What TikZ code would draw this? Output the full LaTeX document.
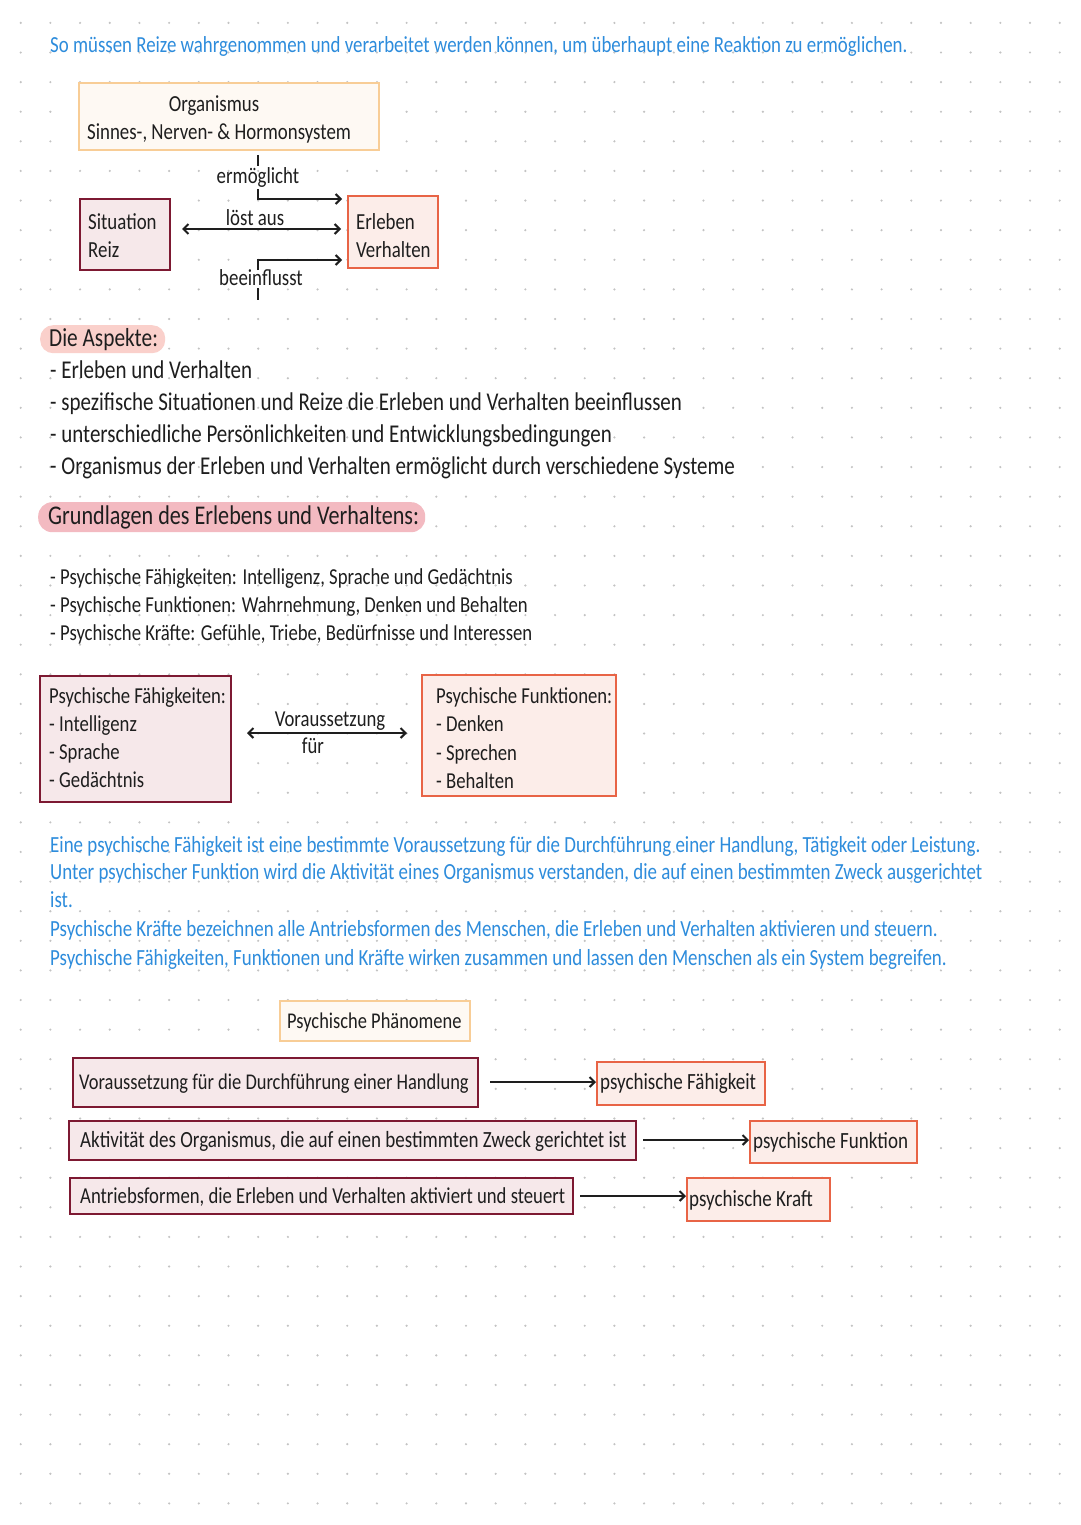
\documentclass[tikz,border=0pt]{standalone}
\usepackage{fontspec}
\setmainfont{Carlito}[FakeStretch=0.82]
\usetikzlibrary{arrows.meta,calc}
\definecolor{ink}{RGB}{30,30,30}
\definecolor{bluetxt}{RGB}{45,140,220}
\definecolor{dred}{RGB}{125,25,50}
\definecolor{ored}{RGB}{232,100,70}
\definecolor{lorange}{RGB}{248,205,150}
\definecolor{pinkfill}{RGB}{246,232,234}
\definecolor{peachfill}{RGB}{252,237,233}
\definecolor{cream}{RGB}{254,249,243}
\definecolor{pillA}{RGB}{250,208,203}
\definecolor{pillB}{RGB}{243,186,193}
\definecolor{dotc}{RGB}{195,195,195}
\begin{document}
\begin{tikzpicture}[x=1pt,y=-1pt,
  txt/.style={anchor=west, inner sep=0pt, text height=1.45em, text depth=0em, text=ink},
  btxt/.style={txt, text=bluetxt},
  dbox/.style={draw=dred, fill=pinkfill, line width=2, anchor=north west, inner sep=0pt},
  obox/.style={draw=ored, fill=peachfill, line width=2, anchor=north west, inner sep=0pt},
  cbox/.style={draw=lorange, fill=cream, line width=2, anchor=north west, inner sep=0pt},
  pillAstyle/.style={fill=pillA, rounded corners=13, anchor=north west, inner sep=0pt},
  pillBstyle/.style={fill=pillB, rounded corners=14, anchor=north west, inner sep=0pt},
  arr/.style={line width=2, draw=ink, -{Straight Barb[length=5pt,width=10pt,line width=2pt]}},
  darr/.style={line width=2, draw=ink, {Straight Barb[length=5pt,width=10pt,line width=2pt]}-{Straight Barb[length=5pt,width=10pt,line width=2pt]}},
  tick/.style={line width=2, draw=ink},
  fA/.style={font={\fontsize{23}{28}\selectfont}},
  fL/.style={font={\fontsize{25.6}{28}\selectfont}},
  fB/.style={font={\fontsize{22.8}{28}\selectfont}},
  fP/.style={font={\fontsize{23.1}{28}\selectfont}},
  fC/.style={font={\fontsize{27}{30}\selectfont}},
  fD/.style={font={\fontsize{22.5}{28}\selectfont}},
  fR/.style={font={\fontsize{23.2}{28}\selectfont}}
]
\useasboundingbox (0,0) rectangle (1080,1525);
\fill[white] (0,0) rectangle (1080,1525);
\foreach \i in {0,...,35}{
  \foreach \j in {0,...,50}{
    \fill[dotc] (20.7+\i*29.686, 22.9+\j*29.61) circle (1.2);
  }
}

% intro
\node[btxt, fA] (intro) at (50,45) {So müssen Reize wahrgenommen und verarbeitet werden können, um überhaupt eine Reaktion zu ermöglichen.};

% diagram 1
\node[cbox, minimum width=300, minimum height=67] (org) at (78,82) {};
\node[txt, fA, anchor=center] (org1) at (214,104) {Organismus};
\node[txt, fA] (org2) at (87,132) {Sinnes-, Nerven- \& Hormonsystem};

\node[dbox, minimum width=90, minimum height=71] (sit) at (79,198) {};
\node[txt, fA] (sit1) at (88,222) {Situation};
\node[txt, fA] (sit2) at (88,250) {Reiz};

\node[obox, minimum width=90, minimum height=72] (erl) at (347,195) {};
\node[txt, fA] (erl1) at (356,222) {Erleben};
\node[txt, fA] (erl2) at (356,250) {Verhalten};

\node[txt, fA, anchor=center] (lerm) at (258,176) {ermöglicht};
\node[txt, fA, anchor=center] (lloest) at (255,218) {löst aus};
\node[txt, fA, anchor=center] (lbee) at (261,278) {beeinflusst};

\coordinate (e1) at (258,155);
\coordinate (e2) at (258,166);
\coordinate (e3) at (258,189);
\draw[tick] (e1) -- (e2);
\draw[arr, shorten >=5pt] (e3) |- (erl.west |- 0,199);
\draw[darr, shorten <=11pt, shorten >=6pt] (sit.east |- 0,229) -- (erl.west |- 0,229);
\coordinate (b1) at (258,270);
\coordinate (b2) at (258,288);
\coordinate (b3) at (258,300);
\draw[arr, shorten >=5pt] (b1) |- (erl.west |- 0,260);
\draw[tick] (b2) -- (b3);

% Aspekte
\node[pillAstyle, minimum width=125, minimum height=28] (asp) at (40,325) {};
\node[txt, font={\fontsize{26}{28}\selectfont}] (asptxt) at (49,339) {Die Aspekte:};
\node[txt, fL] (a1) at (50,371) {- Erleben und Verhalten};
\node[txt, fL] (a2) at (50,403) {- spezifische Situationen und Reize die Erleben und Verhalten beeinflussen};
\node[txt, fL] (a3) at (50,435) {- unterschiedliche Persönlichkeiten und Entwicklungsbedingungen};
\node[txt, fL] (a4) at (50,467) {- Organismus der Erleben und Verhalten ermöglicht durch verschiedene Systeme};

% Grundlagen
\node[pillBstyle, minimum width=387, minimum height=30] (grund) at (38,502) {};
\node[txt, fC] (grundtxt) at (48,517) {Grundlagen des Erlebens und Verhaltens:};
\node[txt, fB] (g1) at (50,577) {- Psychische Fähigkeiten: Intelligenz, Sprache und Gedächtnis};
\node[txt, fB] (g2) at (50,605) {- Psychische Funktionen: Wahrnehmung, Denken und Behalten};
\node[txt, fB] (g3) at (50,633) {- Psychische Kräfte: Gefühle, Triebe, Bedürfnisse und Interessen};

\node[dbox, minimum width=191, minimum height=126] (fah) at (39,675) {};
\node[txt, fB] (fah1) at (49,696) {Psychische Fähigkeiten:};
\node[txt, fB] (fah2) at (49,724) {- Intelligenz};
\node[txt, fB] (fah3) at (49,752) {- Sprache};
\node[txt, fB] (fah4) at (49,780) {- Gedächtnis};

\node[obox, minimum width=194, minimum height=121] (fun) at (421,674) {};
\node[txt, fB] (fun1) at (436,696) {Psychische Funktionen:};
\node[txt, fB] (fun2) at (436,724) {- Denken};
\node[txt, fB] (fun3) at (436,753) {- Sprechen};
\node[txt, fB] (fun4) at (436,781) {- Behalten};

\draw[darr, shorten <=15pt, shorten >=14pt] (fah.east |- 0,733) -- (fun.west |- 0,733);
\node[txt, fB, anchor=center] (lvor) at (330,719) {Voraussetzung};
\node[txt, fB, anchor=center] (lfur) at (313,746) {für};

% blue paragraph
\node[btxt, fP] (p1) at (50,845) {Eine psychische Fähigkeit ist eine bestimmte Voraussetzung für die Durchführung einer Handlung, Tätigkeit oder Leistung.};
\node[btxt, fP] (p2) at (50,872) {Unter psychischer Funktion wird die Aktivität eines Organismus verstanden, die auf einen bestimmten Zweck ausgerichtet};
\node[btxt, fP] (p3) at (50,900) {ist.};
\node[btxt, fP] (p4) at (50,929) {Psychische Kräfte bezeichnen alle Antriebsformen des Menschen, die Erleben und Verhalten aktivieren und steuern.};
\node[btxt, fP] (p5) at (50,958) {Psychische Fähigkeiten, Funktionen und Kräfte wirken zusammen und lassen den Menschen als ein System begreifen.};

% Phaenomene
\node[cbox, minimum width=190, minimum height=40] (phen) at (279,1000) {};
\node[txt, fD] (phentxt) at (287,1021) {Psychische Phänomene};

\node[dbox, minimum width=405, minimum height=49] (r1) at (72,1057) {};
\node[txt, fD] (r1txt) at (79,1082) {Voraussetzung für die Durchführung einer Handlung};
\node[obox, minimum width=168, minimum height=43] (q1) at (596,1061) {};
\node[txt, fR] (q1txt) at (600,1082) {psychische Fähigkeit};
\draw[arr, shorten <=11pt] (r1.east |- 0,1082) -- (q1.west |- 0,1082);

\node[dbox, minimum width=567, minimum height=39] (r2) at (68,1120) {};
\node[txt, fR] (r2txt) at (80,1140) {Aktivität des Organismus, die auf einen bestimmten Zweck gerichtet ist};
\node[obox, minimum width=167, minimum height=42] (q2) at (749,1120) {};
\node[txt, fR] (q2txt) at (753,1141) {psychische Funktion};
\draw[arr, shorten <=6pt] (r2.east |- 0,1140) -- (q2.west |- 0,1140);

\node[dbox, minimum width=503, minimum height=36] (r3) at (69,1177) {};
\node[txt, fB] (r3txt) at (80,1196) {Antriebsformen, die Erleben und Verhalten aktiviert und steuert};
\node[obox, minimum width=143, minimum height=43] (q3) at (686,1177) {};
\node[txt, fR] (q3txt) at (689,1199) {psychische Kraft};
\draw[arr, shorten <=6pt] (r3.east |- 0,1196) -- (q3.west |- 0,1196);
\end{tikzpicture}
\end{document}
